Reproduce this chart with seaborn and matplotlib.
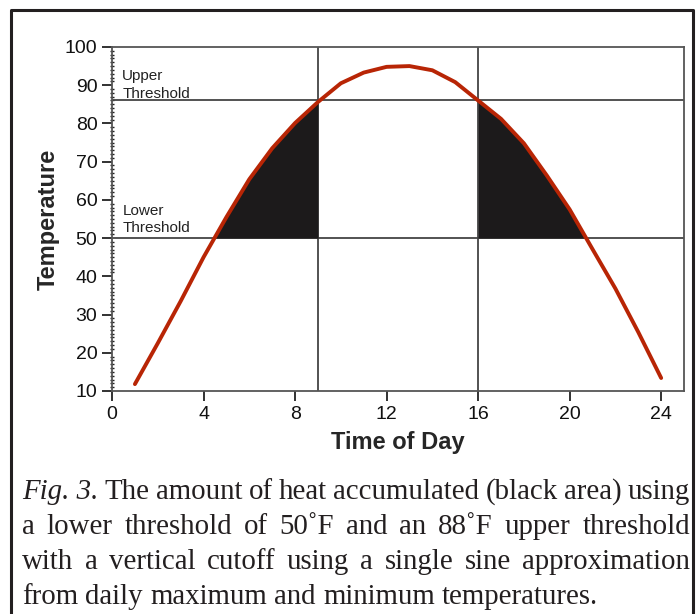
import numpy as np
import pandas as pd
import matplotlib
matplotlib.use("Agg")
import matplotlib.pyplot as plt
from matplotlib.lines import Line2D
from matplotlib.ticker import MultipleLocator
import seaborn as sns

# values
hours = [1, 2, 3, 4, 5, 6, 7, 8, 9, 10, 11, 12,
         13, 14, 15, 16, 17, 18, 19, 20, 21, 22, 23, 24]
temps = [11.8, 22.5, 33.5, 45.0, 55.5, 65.4, 73.5, 80.1, 85.6, 90.5, 93.3, 94.8,
         95.0, 93.9, 90.8, 86.0, 81.2, 74.8, 66.4, 57.5, 47.1, 36.8, 25.4, 13.4]
lower_threshold = 50
upper_threshold = 86
cutoffs = [9, 16]
x_ticks = [0, 4, 8, 12, 16, 20, 24]
y_ticks = [10, 20, 30, 40, 50, 60, 70, 80, 90, 100]

caption_lines = [
    "The amount of heat accumulated (black area) using",
    "a lower threshold of 50˚F and an 88˚F upper threshold",
    "with a vertical cutoff using a single sine approximation",
    "from daily maximum and minimum temperatures.",
]

df = pd.DataFrame({"hour": hours, "temp": temps})

sns.set_style("ticks")
plt.rcParams["font.family"] = ["Liberation Sans", "DejaVu Sans"]

fig = plt.figure(figsize=(6.98, 6.14), dpi=100)
ax = fig.add_axes([0.1605, 0.3632, 0.8195, 0.5603])

line_col = "#444444"
ax.axhline(lower_threshold, color=line_col, lw=1.3, zorder=1)
ax.axhline(upper_threshold, color=line_col, lw=1.3, zorder=1)
for c in cutoffs:
    ax.axvline(c, color=line_col, lw=1.3, zorder=1)

h = df["hour"].to_numpy()
t = df["temp"].to_numpy()
ax.fill_between(h, lower_threshold, t, where=(h <= cutoffs[0]) & (t >= lower_threshold),
                interpolate=True, color="#1c1a1b", lw=0, zorder=2)
ax.fill_between(h, lower_threshold, t, where=(h >= cutoffs[1]) & (t >= lower_threshold),
                interpolate=True, color="#1c1a1b", lw=0, zorder=2)

sns.lineplot(data=df, x="hour", y="temp", ax=ax, color="#b82505", lw=2.8,
             solid_capstyle="round", zorder=3)

ax.set_xlim(0, 25)
ax.set_ylim(10, 100)
ax.set_xticks(x_ticks)
ax.set_yticks(y_ticks)
ax.yaxis.set_minor_locator(MultipleLocator(1))
ax.tick_params(axis="both", which="major", labelsize=14, length=7, width=1.3,
               color="#222222", direction="out", labelcolor="#111111")
ax.tick_params(axis="y", which="minor", length=3, width=1, color="#222222", direction="inout")
for s in ax.spines.values():
    s.set_visible(True)
    s.set_color("#555555")
    s.set_linewidth(1.3)

ax.set_xlabel("Time of Day", fontsize=17, fontweight="bold", labelpad=6)
ax.set_ylabel("Temperature", fontsize=17, fontweight="bold", labelpad=4)

ax.text(0.45, 92.5, "Upper", fontsize=11, va="center", color="#222222")
ax.text(0.45, 87.6, "Threshold", fontsize=11, va="center", color="#222222")
ax.text(0.45, 57.2, "Lower", fontsize=11, va="center", color="#222222")
ax.text(0.45, 52.6, "Threshold", fontsize=11, va="center", color="#222222")

# frame around figure
fw, fh = 698, 614
frame = Line2D([11 / fw, 11 / fw, 693 / fw, 693 / fw], [0, 1 - 10 / fh, 1 - 10 / fh, 0],
               transform=fig.transFigure, color="#231f20", lw=2.2)
fig.add_artist(frame)

# caption, justified line by line
serif = ["Liberation Serif", "DejaVu Serif"]
fs = 20.8
x0, x1 = 22 / fw, 690 / fw
ys = [1 - 492 / fh, 1 - 527 / fh, 1 - 562 / fh, 1 - 597 / fh]
fig.canvas.draw()
rend = fig.canvas.get_renderer()


def width_of(txt, style="normal"):
    tt = fig.text(0, 0, txt, fontsize=fs, family=serif, style=style)
    w = tt.get_window_extent(rend).width / fig.bbox.width
    tt.remove()
    return w


for i, (line, y) in enumerate(zip(caption_lines, ys)):
    words = line.split(" ")
    pieces = [(w, "normal") for w in words]
    if i == 0:
        pieces = [("Fig. 3.", "italic")] + pieces
    widths = [width_of(p, s) for p, s in pieces]
    if i < len(caption_lines) - 1:
        gap = (x1 - x0 - sum(widths)) / (len(pieces) - 1)
    else:
        gap = width_of("a b") - width_of("a") - width_of("b")
    x = x0
    for (p, s), w in zip(pieces, widths):
        fig.text(x, y, p, fontsize=fs, family=serif, style=s, va="center", color="#231f20")
        x += w + gap

fig.savefig("out.png", dpi=100)
